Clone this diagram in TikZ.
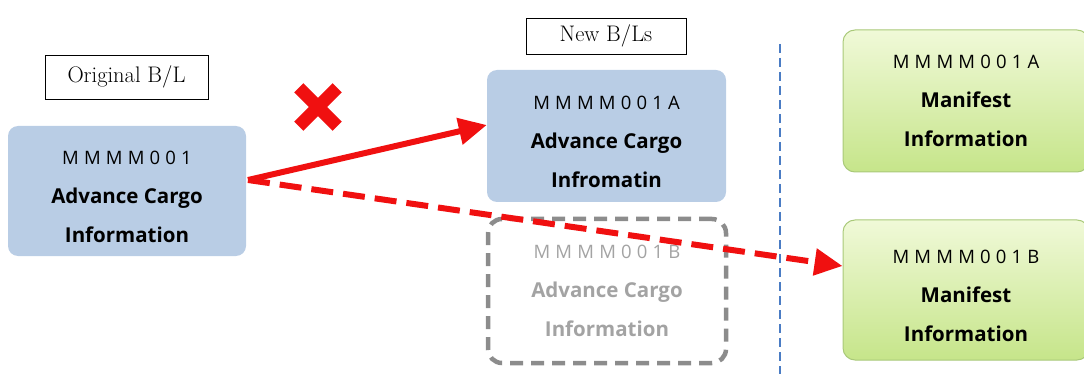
\documentclass[tikz,border=0pt]{standalone}
\usepackage{fontspec}
\setsansfont{Open Sans}
\newfontfamily\codefont{Open Sans}[LetterSpace=28]
\usetikzlibrary{arrows.meta,shapes.geometric,calc}
\definecolor{boxblue}{HTML}{B9CDE5}
\definecolor{gtop}{HTML}{F0F9D8}
\definecolor{gbot}{HTML}{C6E58A}
\definecolor{gedge}{HTML}{A9C979}
\definecolor{arrowred}{HTML}{F01010}
\definecolor{sepblue}{HTML}{4A7CC4}
\definecolor{ghost}{HTML}{8C8C8C}
\tikzset{
  labelbox/.style={draw, line width=0.8pt, inner sep=0pt, font=\fontsize{22.5}{24}\selectfont},
  bluebox/.style={fill=boxblue, rounded corners=10pt, inner sep=0pt, align=center},
  greenbox/.style={draw=gedge, line width=1pt, top color=gtop, bottom color=gbot, rounded corners=12pt, inner sep=0pt, align=center},
  ghostbox/.style={draw=ghost, dashed, dash pattern=on 13pt off 8pt, line width=4.5pt, rounded corners=14pt, inner sep=0pt, align=center, text=ghost!80!white},
  boxtext/.style={font=\sffamily\bfseries\fontsize{20.5}{39}\selectfont},
  redarrow/.style={draw=arrowred, line width=6pt, -{Triangle[length=28pt,width=26pt]}},
}
\newcommand{\codeline}[2][0pt]{{\codefont\mdseries\fontsize{18.5}{39}\selectfont\rule{0pt}{#1}#2}}
\begin{document}
\begin{tikzpicture}[x=1pt,y=1pt]
\useasboundingbox (0,0) rectangle (1084,-374);
% label boxes
\node[labelbox, minimum width=163pt, minimum height=44pt] (orig) at (126.5,-77) {Original B/L};
\node[labelbox, minimum width=160pt, minimum height=36pt] (newl) at (606,-36) {New B/Ls};
% blue boxes
\node[bluebox, boxtext, minimum width=238pt, minimum height=130pt] (src) at (127,-191)
  {\codeline[26pt]{MMMM001}\\Advance Cargo\\Information};
\node[bluebox, boxtext, minimum width=239pt, minimum height=132pt] (nba) at (606.5,-136)
  {\codeline[26pt]{MMMM001A}\\Advance Cargo\\Infromatin};
% ghost box
\node[ghostbox, boxtext, minimum width=238pt, minimum height=144pt] (nbb) at (607,-291)
  {\codeline{MMMM001B}\\Advance Cargo\\Information};
% separator
\coordinate (septop) at (780,-44);
\coordinate (sepbot) at (780,-374);
\draw[sepblue, line width=2.5pt, dash pattern=on 9pt off 5pt] (septop) -- (sepbot);
% green boxes
\node[greenbox, boxtext, minimum width=246pt, minimum height=142pt] (mfa) at (966,-101)
  {\codeline{MMMM001A}\\Manifest\\Information};
\node[greenbox, boxtext, minimum width=246pt, minimum height=140pt] (mfb) at (966,-290)
  {\codeline[26pt]{MMMM001B}\\Manifest\\Information};
% cross
\node[minimum size=44pt, inner sep=0pt] (cross) at (318,-107) {};
\draw[arrowred, line width=13pt] ($(cross.north west)+(3,-3)$) -- ($(cross.south east)+(-3,3)$);
\draw[arrowred, line width=13pt] ($(cross.north east)+(-3,-3)$) -- ($(cross.south west)+(3,3)$);
% arrows
\coordinate (start) at (248,-180);
\draw[redarrow] (start) -- (nba.west |- 0,-125);
\draw[redarrow, dash pattern=on 22pt off 10pt] (start) -- (mfb.west |- 0,-266);
\end{tikzpicture}
\end{document}
